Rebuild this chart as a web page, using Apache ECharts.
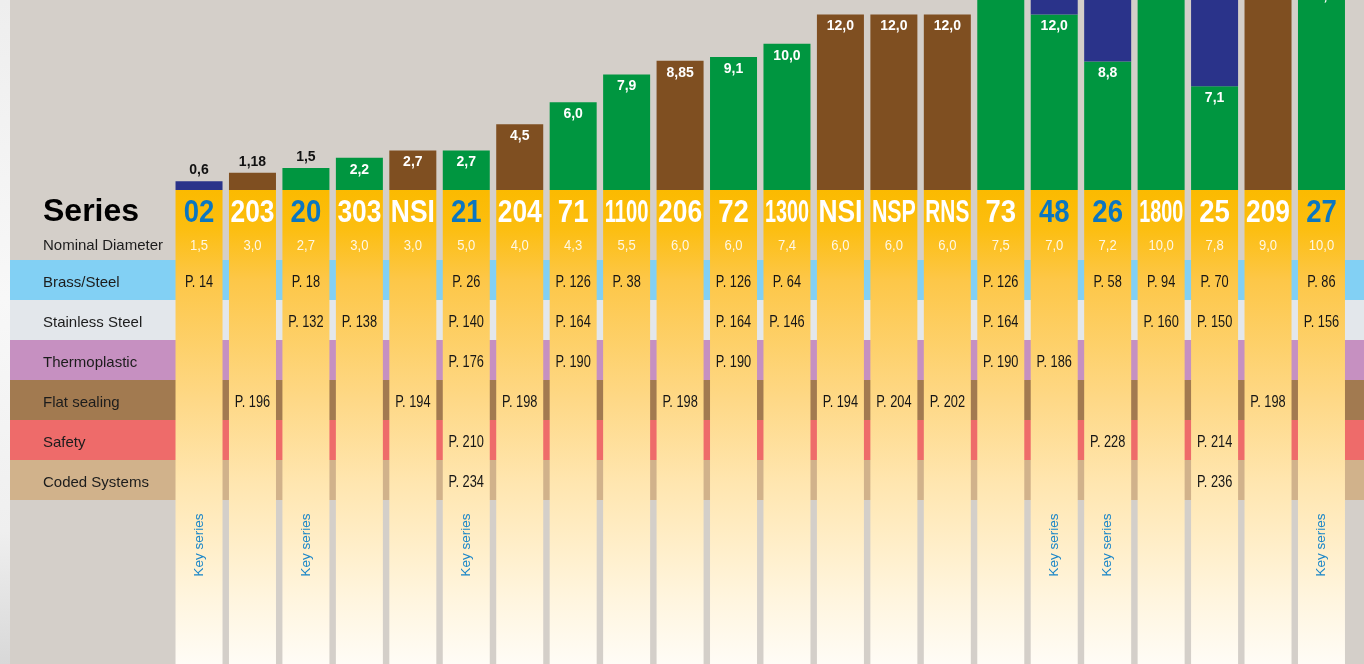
<!DOCTYPE html>
<html>
<head>
<meta charset="utf-8">
<script src="https://cdn.jsdelivr.net/npm/echarts@6/dist/echarts.min.js"></script>
<style>
  html, body { margin: 0; padding: 0; background: #d4cfc9; }
  #chart { width: 1364px; height: 664px; }
</style>
</head>
<body>
<div id="chart"></div>
<script>
// ---- data ----
const seriesNames = ['02', '203', '20', '303', 'NSI', '21', '204', '71', '1100', '206', '72',
  '1300', 'NSI', 'NSP', 'RNS', '73', '48', '26', '1800', '25', '209', '27'];
const keySeries = [true, false, true, false, false, true, false, false, false, false, false,
  false, false, false, false, false, true, true, false, false, false, true];
const nominalDiameter = [1.5, 3.0, 2.7, 3.0, 3.0, 5.0, 4.0, 4.3, 5.5, 6.0, 6.0,
  7.4, 6.0, 6.0, 6.0, 7.5, 7.0, 7.2, 10.0, 7.8, 9.0, 10.0];

// flow values, stacked: green, brown, then blue on top
const greenValues = [null, null, 1.5, 2.2, null, 2.7, null, 6.0, 7.9, null, 9.1,
  10.0, null, null, null, 16.0, 12.0, 8.8, 17.0, 7.1, null, 14.1];
const brownValues = [null, 1.18, null, null, 2.7, null, 4.5, null, null, 8.85, null,
  null, 12.0, 12.0, 12.0, null, null, null, null, null, 18.0, null];
const blueValues = [0.6, null, null, null, null, null, null, null, null, null, null,
  null, null, null, null, null, 2.5, 5.0, null, 7.0, null, null];

const rowNames = ['Brass/Steel', 'Stainless Steel', 'Thermoplastic', 'Flat sealing', 'Safety', 'Coded Systems'];
const pageBrass     = [14, null, 18, null, null, 26, null, 126, 38, null, 126, 64, null, null, null, 126, null, 58, 94, 70, null, 86];
const pageStainless = [null, null, 132, 138, null, 140, null, 164, null, null, 164, 146, null, null, null, 164, null, null, 160, 150, null, 156];
const pageThermo    = [null, null, null, null, null, 176, null, 190, null, null, 190, null, null, null, null, 190, 186, null, null, null, null, null];
const pageFlat      = [null, 196, null, null, 194, null, 198, null, null, 198, null, null, 194, 204, 202, null, null, null, null, null, 198, null];
const pageSafety    = [null, null, null, null, null, 210, null, null, null, null, null, null, null, null, null, null, null, 228, null, 214, null, null];
const pageCoded     = [null, null, null, null, null, 234, null, null, null, null, null, null, null, null, null, null, null, null, null, 236, null, null];
const pageRows = [pageBrass, pageStainless, pageThermo, pageFlat, pageSafety, pageCoded];

// ---- styling ----
const GREEN = '#009640', BROWN = '#7f4f21', BLUE = '#2a338a';
const rowColors = ['#82d0f4', '#e3e7eb', '#c690c1', '#a27a50', '#ee6b6a', '#d1b28b'];
const FONT = '"Liberation Sans", Arial, sans-serif';
const TABLE_DEPTH = 11.85;   // table height in row units (one colored row = 1)
const SERIES_ROW = 0.55, NOMINAL_ROW = 1.4, FIRST_BAND = 1.75, KEY_ROW = 8.875;

const fmt = v => {
  const s = String(v);
  const d = s.indexOf('.') >= 0 ? s.split('.')[1].length : 0;
  return v.toFixed(Math.max(1, d)).replace('.', ',');
};

const measureCtx = document.createElement('canvas').getContext('2d');
function textWidth(text, font) { measureCtx.font = font; return measureCtx.measureText(text).width; }

function barData(values, isBlue) {
  return values.map((v, i) => {
    if (v == null) return '-';
    const item = { value: v };
    if (isBlue && (greenValues[i] != null || brownValues[i] != null)) {
      item.label = { show: false };
    } else if (v < 2) {
      item.label = { position: 'top', color: '#111', distance: 4 };
    }
    return item;
  });
}

const barLabel = {
  show: true, position: 'insideTop', distance: 5, color: '#fff',
  fontFamily: FONT, fontWeight: 'bold', fontSize: 14,
  formatter: p => fmt(p.value)
};

const chart = echarts.init(document.getElementById('chart'), null, { renderer: 'canvas' });

const columnGradient = new echarts.graphic.LinearGradient(0, 0, 0, 1, [
  { offset: 0, color: '#fbba00' },
  { offset: 0.08, color: '#fcbe10' },
  { offset: 0.19, color: '#fdc748' },
  { offset: 0.44, color: '#fed886' },
  { offset: 0.62, color: '#ffe6b0' },
  { offset: 0.86, color: '#fff5de' },
  { offset: 1, color: '#fffcf6' }
]);

const NAME_FONT = 'bold 32px ' + FONT;
const PAGE_FONT = '16px ' + FONT;

// the tallest bars run past the top of the page (bars are not clipped to the grid)
const flowBar = (name, color, values, isBlue) => ({
  type: 'bar', name: name, stack: 'flow', xAxisIndex: 0, yAxisIndex: 0,
  barWidth: 47, z: 3, clip: false,
  itemStyle: { color: color }, label: barLabel, data: barData(values, isBlue)
});

const option = {
  backgroundColor: '#d4cfc9',
  animation: false,
  graphic: [{
    type: 'rect', left: 0, top: 0, z: -10,
    shape: { width: 10, height: 664 },
    style: {
      fill: new echarts.graphic.LinearGradient(0, 0, 0, 1, [
        { offset: 0, color: '#eeeeee' },
        { offset: 0.45, color: '#f8f8f8' },
        { offset: 0.8, color: '#efefef' },
        { offset: 1, color: '#d8d8d8' }
      ])
    }
  }],
  grid: [
    { left: 172.3, right: 15.8, top: 0, height: 190 },
    { left: 172.3, right: 15.8, top: 190, height: 474 }
  ],
  xAxis: [
    { type: 'category', gridIndex: 0, data: seriesNames, show: false },
    { type: 'category', gridIndex: 1, data: seriesNames, show: false }
  ],
  yAxis: [
    { type: 'value', gridIndex: 0, min: 0, max: 13, show: false },
    { type: 'value', gridIndex: 1, min: 0, max: TABLE_DEPTH, inverse: true, show: false }
  ],
  series: [
    flowBar('green', GREEN, greenValues, false),
    flowBar('brown', BROWN, brownValues, false),
    flowBar('blue', BLUE, blueValues, true),

    // colored category rows behind the table
    { type: 'custom', name: 'rows', xAxisIndex: 1, yAxisIndex: 1, z: 1, clip: false, silent: true,
      data: rowNames.map((n, i) => [0, i]),
      renderItem: (params, api) => {
        const r = api.value(1);
        const y0 = api.coord([0, FIRST_BAND + r])[1];
        const y1 = api.coord([0, FIRST_BAND + r + 1])[1];
        const w = api.getWidth();
        return { type: 'group', children: [
          { type: 'rect', shape: { x: 10, y: y0, width: w - 10, height: y1 - y0 },
            style: { fill: rowColors[r] } },
          { type: 'text', x: 43, y: (y0 + y1) / 2 + 3,
            style: { text: rowNames[r], font: '15px ' + FONT, fill: '#1c1c1c',
              align: 'left', verticalAlign: 'middle' } }
        ] };
      }
    },
    // row headings
    { type: 'custom', name: 'headings', xAxisIndex: 1, yAxisIndex: 1, z: 4, clip: false, silent: true,
      data: [[0, SERIES_ROW], [0, NOMINAL_ROW]],
      renderItem: (params, api) => {
        const y = api.coord([0, api.value(1)])[1];
        const isTitle = params.dataIndex === 0;
        return { type: 'text', x: 43, y: y,
          style: { text: isTitle ? 'Series' : 'Nominal Diameter',
            font: isTitle ? 'bold 32px ' + FONT : '15px ' + FONT,
            fill: isTitle ? '#000' : '#1c1c1c', align: 'left', verticalAlign: 'middle' } };
      }
    },
    // table columns
    { type: 'bar', name: 'columns', xAxisIndex: 1, yAxisIndex: 1, barWidth: 47, z: 2, silent: true,
      itemStyle: { color: columnGradient },
      data: seriesNames.map(() => TABLE_DEPTH) },
    // column texts: series name, nominal diameter, catalogue pages, key series mark
    { type: 'custom', name: 'cells', xAxisIndex: 1, yAxisIndex: 1, z: 5, clip: false, silent: true,
      data: seriesNames.map((n, i) => [i]),
      renderItem: (params, api) => {
        const i = api.value(0);
        const children = [];
        const pName = api.coord([i, SERIES_ROW]);
        const name = seriesNames[i];
        const nameScale = Math.min(0.86, 44 / textWidth(name, NAME_FONT));
        children.push({ type: 'text', x: pName[0], y: pName[1] + 1, scaleX: nameScale,
          style: { text: name, font: NAME_FONT, fill: keySeries[i] ? '#0b76c0' : '#ffffff',
            align: 'center', verticalAlign: 'middle' } });
        const pNom = api.coord([i, NOMINAL_ROW]);
        children.push({ type: 'text', x: pNom[0], y: pNom[1], scaleX: 0.87,
          style: { text: nominalDiameter[i].toFixed(1).replace('.', ','), font: '15px ' + FONT,
            fill: 'rgba(255,255,255,0.88)', align: 'center', verticalAlign: 'middle' } });
        pageRows.forEach((row, r) => {
          if (row[i] == null) return;
          const p = api.coord([i, FIRST_BAND + r + 0.5]);
          children.push({ type: 'text', x: p[0], y: p[1] + 3, scaleX: 0.8,
            style: { text: 'P. ' + row[i], font: PAGE_FONT, fill: '#161616',
              align: 'center', verticalAlign: 'middle' } });
        });
        if (keySeries[i]) {
          const pk = api.coord([i, KEY_ROW]);
          children.push({ type: 'text', x: pk[0], y: pk[1], rotation: Math.PI / 2,
            style: { text: 'Key series', font: '13.5px ' + FONT, fill: '#1a86c8',
              align: 'center', verticalAlign: 'middle' } });
        }
        return { type: 'group', children: children };
      }
    }
  ]
};

chart.setOption(option);
</script>
</body>
</html>
